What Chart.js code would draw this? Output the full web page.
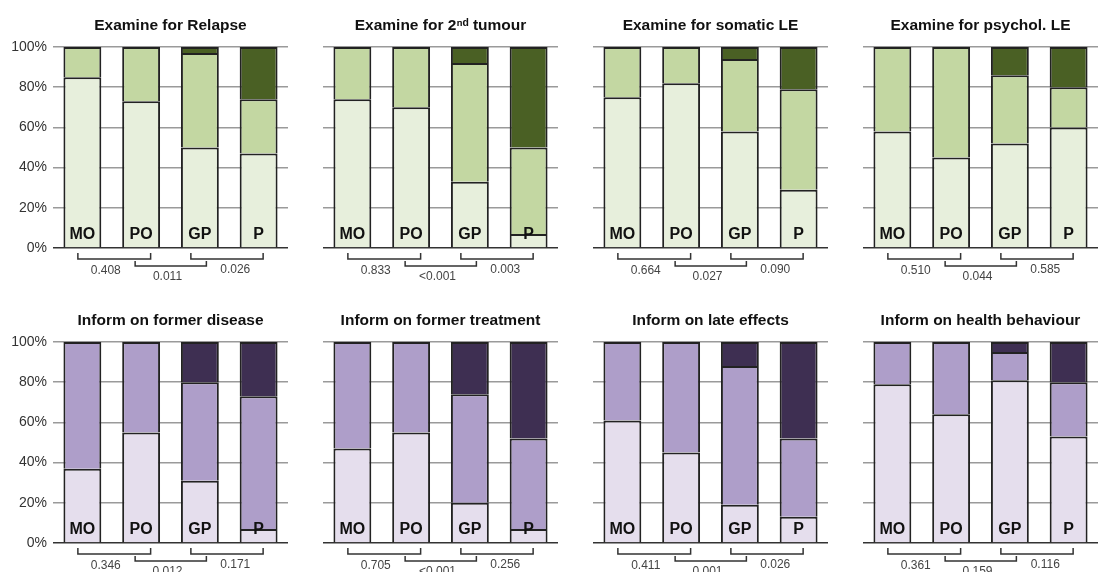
<!DOCTYPE html>
<html>
<head>
<meta charset="utf-8">
<script src="https://cdn.jsdelivr.net/npm/chart.js@4.4.1/dist/chart.umd.min.js"></script>
<style>
  html, body { margin: 0; padding: 0; background: #fff; }
  body { width: 1099px; height: 572px; overflow: hidden; position: relative; }
  .panel { position: absolute; width: 289px; height: 300px; }
</style>
</head>
<body>
<div id="grid"></div>
<script>
// categories shown inside each bar
const categories = ['MO', 'PO', 'GP', 'P'];

const titles = [
    'Examine for Relapse',
    'Examine for 2\u207F\u1D48 tumour',
    'Examine for somatic LE',
    'Examine for psychol. LE',
    'Inform on former disease',
    'Inform on former treatment',
    'Inform on late effects',
    'Inform on health behaviour'
];

// share (%) of each answer level, bottom segment first
const lowShare = [
    [85, 73, 50, 47],
    [74, 70, 33, 7],
    [75, 82, 58, 29],
    [58, 45, 52, 60],
    [37, 55, 31, 7],
    [47, 55, 20, 7],
    [61, 45, 19, 13],
    [79, 64, 81, 53]
];
const midShare = [
    [15, 27, 47, 27],
    [26, 30, 59, 43],
    [25, 18, 36, 50],
    [42, 55, 34, 20],
    [63, 45, 49, 66],
    [53, 45, 54, 45],
    [39, 55, 69, 39],
    [21, 36, 14, 27]
];
const highShare = [
    [0, 0, 3, 26],
    [0, 0, 8, 50],
    [0, 0, 6, 21],
    [0, 0, 14, 20],
    [0, 0, 20, 27],
    [0, 0, 26, 48],
    [0, 0, 12, 48],
    [0, 0, 5, 20]
];

// p-values: MO-PO, PO-GP, GP-P
const pValues = [
    ['0.408', '0.011', '0.026'],
    ['0.833', '<0.001', '0.003'],
    ['0.664', '0.027', '0.090'],
    ['0.510', '0.044', '0.585'],
    ['0.346', '0.012', '0.171'],
    ['0.705', '<0.001', '0.256'],
    ['0.411', '0.001', '0.026'],
    ['0.361', '0.159', '0.116']
];

const greens = ['#e7efdc', '#c3d7a2', '#4a6024'];
const purples = ['#e5deed', '#ae9ec9', '#3e2f52'];
const FONT = '"Liberation Sans", Arial, sans-serif';

// bar labels + comparison brackets under the axis
const annotate = {
    id: 'annotate',
    afterDatasetsDraw(chart, args, opts) {
        const { ctx, scales: { x, y } } = chart;
        const base = y.bottom;
        ctx.save();
        ctx.font = 'bold 16px ' + FONT;
        ctx.fillStyle = '#111';
        ctx.textAlign = 'center';
        ctx.textBaseline = 'middle';
        categories.forEach((c, i) => {
            ctx.fillText(c, x.getPixelForValue(i), base - 13);
        });

        // [left offset, right offset, tick top, line y, text dx, text dy]
        const shapes = [
            [-4.5, 9.5, 5, 11, -6, 23],
            [-6, 6.5, 13, 18, -3, 29],
            [-9, 4.5, 5, 11, 6, 22]
        ];
        ctx.strokeStyle = '#333';
        ctx.lineWidth = 1.5;
        ctx.font = '12px ' + FONT;
        ctx.fillStyle = '#444';
        shapes.forEach((s, i) => {
            const a = x.getPixelForValue(i);
            const b = x.getPixelForValue(i + 1);
            const x1 = a + s[0], x2 = b + s[1];
            ctx.beginPath();
            ctx.moveTo(x1, base + s[2]);
            ctx.lineTo(x1, base + s[3]);
            ctx.lineTo(x2, base + s[3]);
            ctx.lineTo(x2, base + s[2]);
            ctx.stroke();
            ctx.fillText(opts.p[i], (a + b) / 2 + s[4], base + s[5]);
        });
        ctx.restore();
    }
};

const grid = document.getElementById('grid');

titles.forEach((title, k) => {
    const col = k % 4;
    const row = Math.floor(k / 4);
    const palette = row === 0 ? greens : purples;

    const box = document.createElement('div');
    box.className = 'panel';
    box.style.left = (col * 270) + 'px';
    box.style.top = (row * 295) + 'px';
    const canvas = document.createElement('canvas');
    canvas.width = 289;
    canvas.height = 300;
    box.appendChild(canvas);
    grid.appendChild(box);

    const levels = [lowShare[k], midShare[k], highShare[k]];

    new Chart(canvas.getContext('2d'), {
        type: 'bar',
        data: {
            labels: categories,
            datasets: levels.map((vals, j) => ({
                data: vals,
                backgroundColor: palette[j],
                borderColor: '#222',
                borderWidth: 2,
                borderSkipped: 'start',
                barPercentage: 0.645,
                categoryPercentage: 1
            }))
        },
        options: {
            responsive: false,
            animation: false,
            layout: { padding: { left: 0, right: 1, top: 0, bottom: 52 } },
            plugins: {
                legend: { display: false },
                tooltip: { enabled: false },
                title: {
                    display: true,
                    text: title,
                    fullSize: false,
                    color: '#111',
                    font: { family: FONT, size: 15.5, weight: 'bold' },
                    padding: { top: 16, bottom: 12.4 }
                },
                annotate: { p: pValues[k] }
            },
            scales: {
                x: {
                    stacked: true,
                    display: false
                },
                y: {
                    stacked: true,
                    min: 0,
                    max: 100,
                    border: { display: false },
                    grid: {
                        drawTicks: false,
                        lineWidth: 1.5,
                        color: ctx => ctx.tick && ctx.tick.value === 0 ? '#333' : '#9a9a9a'
                    },
                    ticks: {
                        display: col === 0,
                        stepSize: 20,
                        padding: 6,
                        color: '#333',
                        font: { family: FONT, size: 14 },
                        callback: v => v + '%'
                    },
                    afterFit: scale => { scale.width = 53; }
                }
            }
        },
        plugins: [annotate]
    });
});
</script>
</body>
</html>
